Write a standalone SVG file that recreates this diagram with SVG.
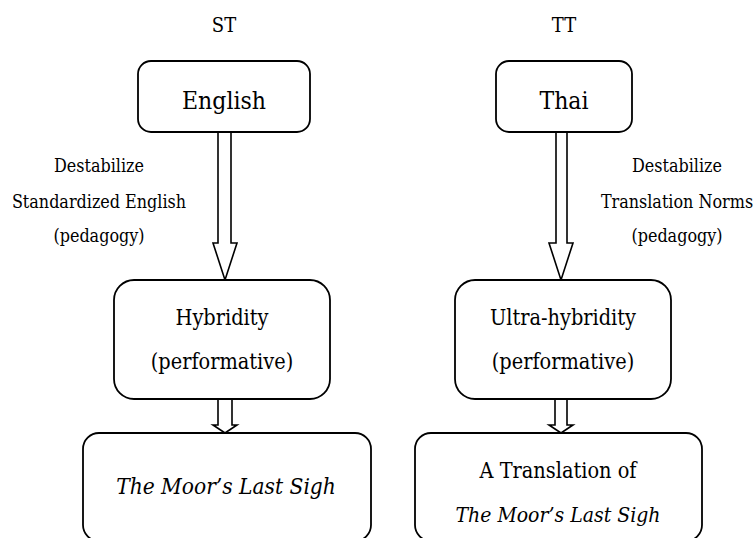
<svg xmlns="http://www.w3.org/2000/svg" width="756" height="538" viewBox="0 0 756 538">
<style>
.box{fill:#fff;stroke:#000;stroke-width:1.8}
.arr{fill:#fff;stroke:#000;stroke-width:1.6;stroke-linejoin:miter}
text{font-family:"DejaVu Serif Condensed","DejaVu Serif","Liberation Serif",serif;fill:#000;text-anchor:middle}
.h{font-size:20px}
.big{font-size:24.5px}
.mid{font-size:21.5px}
.sm{font-size:17.8px}
.it{font-style:italic;font-size:21px}
.it2{font-style:italic;font-size:22.5px}
</style>
<rect width="756" height="538" fill="#fff"/>
<text class="h" x="224" y="32">ST</text>
<text class="h" x="564" y="32">TT</text>
<g id="connectors">
<path class="arr" d="M218,132 V243 H213 L225,280 L237,243 H231 V132"/>
<path class="arr" d="M556,132 V243 H549 L561,280 L573,243 H567 V132"/>
<path class="arr" d="M218,399 V425 H213 L225,433 L237,425 H232 V399"/>
<path class="arr" d="M555,399 V425 H549 L561,433 L573,425 H567 V399"/>
</g>
<g id="english"><rect class="box" x="138" y="61" width="172" height="71" rx="13"/><text class="big" x="224" y="109">English</text></g>
<g id="thai"><rect class="box" x="496" y="61" width="136" height="71" rx="13"/><text class="big" x="564" y="109">Thai</text></g>
<g id="label-st"><text class="sm" x="99" y="172">Destabilize</text><text class="sm" x="99" y="208">Standardized English</text><text class="sm" x="99" y="242">(pedagogy)</text></g>
<g id="label-tt"><text class="sm" x="677" y="172">Destabilize</text><text class="sm" x="677" y="208">Translation Norms</text><text class="sm" x="677" y="242">(pedagogy)</text></g>
<g id="hybridity"><rect class="box" x="114" y="280" width="216" height="119" rx="20"/><text class="mid" x="222" y="325">Hybridity</text><text class="mid" x="222" y="369">(performative)</text></g>
<g id="ultra"><rect class="box" x="455" y="280" width="216" height="119" rx="20"/><text class="mid" x="563" y="325">Ultra-hybridity</text><text class="mid" x="563" y="369">(performative)</text></g>
<g id="moor"><rect class="box" x="83" y="433" width="288" height="108" rx="16"/><text class="it2" x="226" y="494">The Moor’s Last Sigh</text></g>
<g id="translation"><rect class="box" x="415" y="433" width="287" height="108" rx="16"/><text class="mid" x="558" y="478">A Translation of</text><text class="it" x="558" y="522">The Moor’s Last Sigh</text></g>
</svg>
